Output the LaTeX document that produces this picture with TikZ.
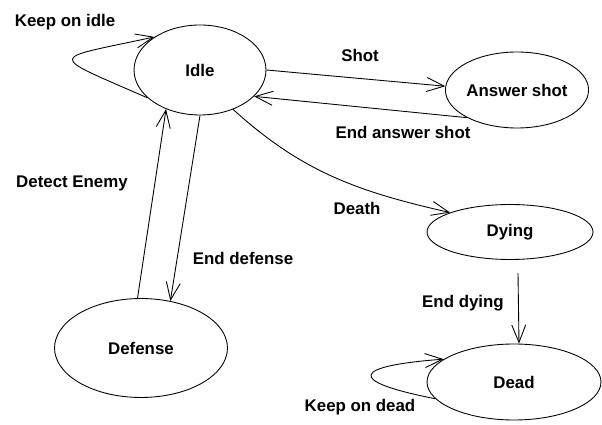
\documentclass[tikz,border=0pt]{standalone}
\usepackage{fontspec}
\setmainfont{Liberation Sans}
\usetikzlibrary{shapes.geometric,arrows.meta}
\tikzset{
  state/.style={draw,ellipse,inner sep=0pt,line width=0.5pt},
  lbl/.style={inner sep=0pt},
}
\begin{document}
\begin{tikzpicture}[x=0.02cm,y=-0.02cm,>={Straight Barb[length=10pt,width=8pt]},
  font=\fontsize{9.6}{11}\selectfont\bfseries,line width=0.5pt]
\useasboundingbox (0,0) rectangle (602,425);
\node[state,minimum width=2.64cm,minimum height=1.8cm] (idle) at (200,70) {Idle};
\node[state,minimum width=2.74cm,minimum height=1.52cm] (ans) at (517,90) {Answer shot};
\node[state,minimum width=3.46cm,minimum height=1.98cm] (def) at (141,348) {Defense};
\node[state,minimum width=3.32cm,minimum height=1.1cm] (dying) at (510,232) {Dying};
\node[state,minimum width=3.48cm,minimum height=1.52cm] (dead) at (514,382) {Dead};
\node[lbl] (kidle) at (65,22) {Keep on idle};
\node[lbl] (shot) at (360,55) {Shot};
\node[lbl] (eans) at (403,132) {End answer shot};
\node[lbl] (detect) at (72,183) {Detect Enemy};
\node[lbl] (edef) at (243,258) {End defense};
\node[lbl] (death) at (357,208) {Death};
\node[lbl] (edying) at (463,303) {End dying};
\node[lbl] (kdead) at (360,407) {Keep on dead};
\draw[->] (idle.208) .. controls (45,53) and (48,60) .. (idle.144);
\draw[->] (idle.0) -- (ans.177);
\draw[->] (ans.209) -- (idle.-26);
\draw[->] (idle.-50) .. controls (300,170) and (354,191) .. (dying.162);
\draw[->] (def.94) -- (idle.-131);
\draw[->] (idle.-90) -- (def.58);
\draw[->] ([xshift=0.16cm,yshift=-0.26cm]dying.south) -- ([xshift=0.1cm]dead.north);
\draw[->] (dead.192) .. controls (345,381) and (352,366) .. (dead.162);
\end{tikzpicture}
\end{document}
